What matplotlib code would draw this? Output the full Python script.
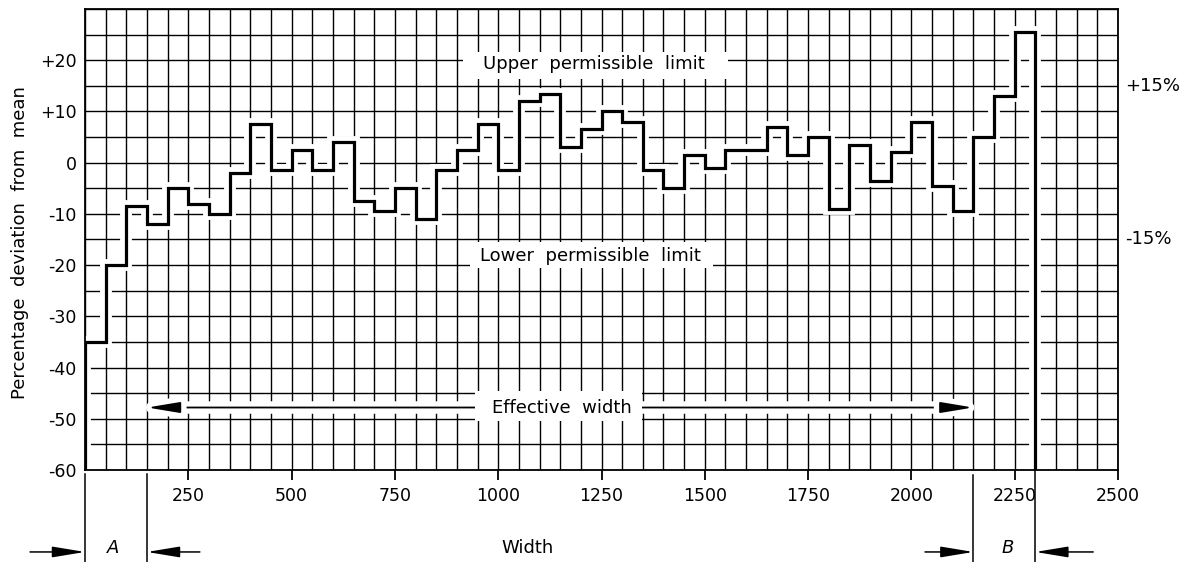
import numpy as np
import matplotlib
matplotlib.use("Agg")
import matplotlib.pyplot as plt
import matplotlib.patheffects as pe
from matplotlib.patches import Rectangle
from matplotlib.ticker import MultipleLocator

plt.rcParams['font.family'] = ['DejaVu Sans']

# ---- data -------------------------------------------------------------
segment_width = 50
deviation = [-35, -20, -8.5, -12, -5, -8, -10, -2, 7.5, -1.5,
             2.5, -1.5, 4, -7.5, -9.5, -5, -11, -1.5, 2.5, 7.5,
             -1.5, 12, 13.5, 3, 6.5, 10, 8, -1.5, -5, 1.5,
             -1, 2.5, 2.5, 7, 1.5, 5, -9, 3.5, -3.5, 2,
             8, -4.5, -9.5, 5, 13, 25.5]
baseline = -60
x_ticks = [250, 500, 750, 1000, 1250, 1500, 1750, 2000, 2250, 2500]
x_tick_labels = ['250', '500', '750', '1000', '1250', '1500', '1750', '2000', '2250', '2500']
y_ticks = [20, 10, 0, -10, -20, -30, -40, -50, -60]
y_tick_labels = ['+20', '+10', '0', '-10', '-20', '-30', '-40', '-50', '-60']
limit_upper = 15
limit_lower = -15
region_A = (0, 150)
region_B = (2150, 2300)

edges = np.arange(len(deviation) + 1) * segment_width
step_x = np.repeat(edges, 2)
step_y = np.concatenate([[baseline], np.repeat(deviation, 2), [baseline]])

# ---- figure -----------------------------------------------------------
W, H = 1191, 562
fig = plt.figure(figsize=(W / 100, H / 100), dpi=100)
ax = fig.add_axes([85 / W, 1 - 470 / H, (1118 - 85) / W, (470 - 9) / H])
ax.set_xlim(0, 2500)
ax.set_ylim(-60, 30)

ax.set_xticks(x_ticks)
ax.set_xticklabels(x_tick_labels)
ax.xaxis.set_minor_locator(MultipleLocator(50))
ax.set_yticks(y_ticks)
ax.set_yticklabels(y_tick_labels)
ax.yaxis.set_minor_locator(MultipleLocator(5))
ax.tick_params(axis='x', which='major', direction='out', length=7, width=1.3,
               labelsize=12.5, pad=5)
ax.tick_params(axis='x', which='minor', length=0)
ax.tick_params(axis='y', which='both', length=0, labelsize=12.5, pad=6)
ax.grid(True, which='both', color='black', linewidth=1.0)
ax.set_axisbelow(True)
for s in ax.spines.values():
    s.set_linewidth(1.3)
    s.set_zorder(5)

halo = [pe.Stroke(linewidth=8.5, foreground='white'), pe.Normal()]

# step profile
ax.plot(step_x, step_y, color='black', lw=2.3, solid_joinstyle='miter',
        zorder=3, path_effects=halo)

# limit labels
ax.add_patch(Rectangle((915, 16.3), 640, 5.3, facecolor='white',
                       edgecolor='none', zorder=2))
ax.text(1232, 19.2, 'Upper  permissible  limit', ha='center', va='center',
        fontsize=13, zorder=4)
ax.add_patch(Rectangle((932, -20.6), 588, 5.2, facecolor='white',
                       edgecolor='none', zorder=2))
ax.text(1224, -18.2, 'Lower  permissible  limit', ha='center', va='center',
        fontsize=13, zorder=4)

ax.text(2517, limit_upper, '+15%', ha='left', va='center', fontsize=13,
        clip_on=False)
ax.text(2517, limit_lower, '-15%', ha='left', va='center', fontsize=13,
        clip_on=False)

# effective width arrow
eff_y = -47.8
ax.annotate('', xy=(region_A[1], eff_y), xytext=(region_B[0], eff_y),
            arrowprops=dict(arrowstyle='<|-|>,head_length=2.0,head_width=0.33',
                            mutation_scale=10, color='black', lw=1.3,
                            shrinkA=0, shrinkB=0,
                            path_effects=[pe.Stroke(linewidth=9, foreground='white'),
                                          pe.Normal()]),
            zorder=3)
ax.add_patch(Rectangle((944, -50.5), 404, 6.0, facecolor='white',
                       edgecolor='none', zorder=3.5))
ax.text(1154, eff_y, 'Effective  width', ha='center', va='center',
        fontsize=13, zorder=4)

# dimension lines under the axis
dim_y = -76.0
for xv, y0 in [(region_A[0], -60.7), (region_A[1], -60.7),
               (region_B[0], -61.0), (region_B[1], -60.0)]:
    ax.plot([xv, xv], [y0, -78.5], color='black', lw=1.1, clip_on=False)

arrow_kw = dict(arrowstyle='-|>,head_length=2.0,head_width=0.33',
                mutation_scale=10, color='black', lw=1.1, shrinkA=0, shrinkB=0)
ax.annotate('', xy=(region_A[0], dim_y), xytext=(-133, dim_y),
            arrowprops=arrow_kw, annotation_clip=False)
ax.annotate('', xy=(region_A[1], dim_y), xytext=(278, dim_y),
            arrowprops=arrow_kw, annotation_clip=False)
ax.annotate('', xy=(region_B[0], dim_y), xytext=(2033, dim_y),
            arrowprops=arrow_kw, annotation_clip=False)
ax.annotate('', xy=(region_B[1], dim_y), xytext=(2440, dim_y),
            arrowprops=arrow_kw, annotation_clip=False)
ax.text(68, -75.3, 'A', style='italic', ha='center', va='center',
        fontsize=13, clip_on=False)
ax.text(2234, -75.3, 'B', style='italic', ha='center', va='center',
        fontsize=13, clip_on=False)
ax.text(1072, -75.3, 'Width', ha='center', va='center', fontsize=13,
        clip_on=False)

fig.text(20 / W, 1 - 243 / H, 'Percentage  deviation  from  mean',
         rotation=90, ha='center', va='center', fontsize=13)

fig.savefig('out.png', dpi=100, facecolor='white')
